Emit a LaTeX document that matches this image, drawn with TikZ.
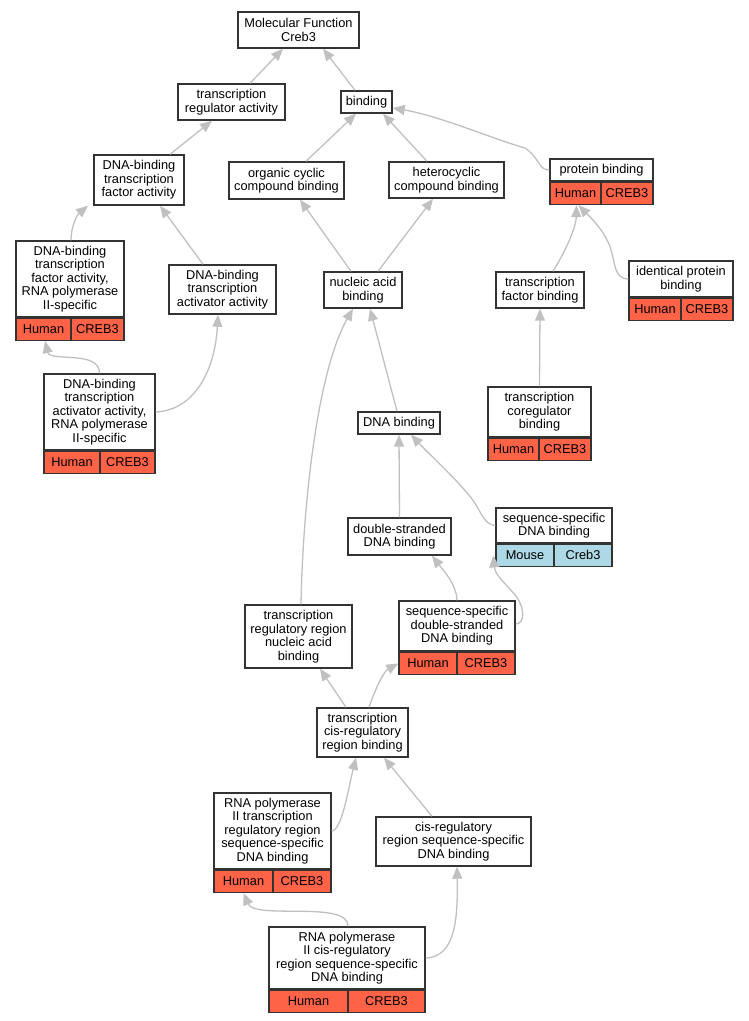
\documentclass[tikz,border=0pt]{standalone}
\usepackage{fontspec}
\setmainfont{Liberation Sans}
\usetikzlibrary{arrows.meta}

\definecolor{human}{HTML}{FF6347}
\definecolor{mouse}{HTML}{ADD8E6}
\definecolor{edgegray}{HTML}{C0C0C0}

\tikzset{
  term/.style={draw=black!80, line width=1.4pt, fill=white, inner sep=0pt,
               align=center, font=\fontsize{12.8}{13.5}\selectfont},
  humancell/.style={term, fill=human, minimum height=22},
  mousecell/.style={term, fill=mouse, minimum height=22},
  isa/.style={draw=edgegray, line width=1.3pt,
              -{Triangle[length=12pt,width=10pt]}}
}

\begin{document}
\begin{tikzpicture}[x=1pt, y=-1pt]
      \useasboundingbox (0,0) rectangle (749,1021);

      % top of the ontology
      \node (MF)   [term, minimum width=121, minimum height=36] at (298.5,30)  {Molecular Function\\Creb3};
      \node (TRA)  [term, minimum width=107, minimum height=36] at (231.5,102) {transcription\\regulator activity};
      \node (BIND) [term, minimum width=51,  minimum height=22] at (366.5,102) {binding};

      \node (DBTFA) [term, minimum width=90,  minimum height=50] at (139,180)   {DNA-binding\\transcription\\factor activity};
      \node (OCCB)  [term, minimum width=115, minimum height=37] at (286.5,180.5) {organic cyclic\\compound binding};
      \node (HCB)   [term, minimum width=115, minimum height=36] at (446.5,180) {heterocyclic\\compound binding};

      \node (PB)  [term, minimum width=103, minimum height=22] at (601.5,170) {protein binding};
      \node (PBh) [humancell, minimum width=51, anchor=north west] at (PB.south west) {Human};
      \node (PBc) [humancell, minimum width=52, anchor=north east] at (PB.south east) {CREB3};

      % second level
      \node (DBTFA2)  [term, minimum width=108, minimum height=76] at (70,279) {DNA-binding\\transcription\\factor activity,\\RNA polymerase\\II-specific};
      \node (DBTFA2h) [humancell, minimum width=55, anchor=north west] at (DBTFA2.south west) {Human};
      \node (DBTFA2c) [humancell, minimum width=53, anchor=north east] at (DBTFA2.south east) {CREB3};

      \node (DBTAA) [term, minimum width=107, minimum height=49] at (222.5,289.5) {DNA-binding\\transcription\\activator activity};
      \node (NAB)   [term, minimum width=78,  minimum height=36] at (363,290)     {nucleic acid\\binding};
      \node (TFB)   [term, minimum width=88,  minimum height=36] at (540,290)     {transcription\\factor binding};

      \node (IPB)  [term, minimum width=104, minimum height=36] at (681,279) {identical protein\\binding};
      \node (IPBh) [humancell, minimum width=52, anchor=north west] at (IPB.south west) {Human};
      \node (IPBc) [humancell, minimum width=52, anchor=north east] at (IPB.south east) {CREB3};

      \node (DBTAA2)  [term, minimum width=111, minimum height=76] at (99.5,412) {DNA-binding\\transcription\\activator activity,\\RNA polymerase\\II-specific};
      \node (DBTAA2h) [humancell, minimum width=56, anchor=north west] at (DBTAA2.south west) {Human};
      \node (DBTAA2c) [humancell, minimum width=55, anchor=north east] at (DBTAA2.south east) {CREB3};

      \node (DNAB) [term, minimum width=82, minimum height=22] at (399,423) {DNA binding};

      \node (TCB)  [term, minimum width=103, minimum height=50] at (539.5,412) {transcription\\coregulator\\binding};
      \node (TCBh) [humancell, minimum width=51, anchor=north west] at (TCB.south west) {Human};
      \node (TCBc) [humancell, minimum width=52, anchor=north east] at (TCB.south east) {CREB3};

      % DNA binding branch
      \node (SSDB)  [term, minimum width=116, minimum height=35] at (554,525.5) {sequence-specific\\DNA binding};
      \node (SSDBm) [mousecell, minimum width=58, anchor=north west] at (SSDB.south west) {Mouse};
      \node (SSDBc) [mousecell, minimum width=58, anchor=north east] at (SSDB.south east) {Creb3};

      \node (DSDB) [term, minimum width=103, minimum height=37] at (399.5,536.5) {double-stranded\\DNA binding};

      \node (SSDSDB)  [term, minimum width=116, minimum height=50] at (457,626) {sequence-specific\\double-stranded\\DNA binding};
      \node (SSDSDBh) [humancell, minimum width=58, anchor=north west] at (SSDSDB.south west) {Human};
      \node (SSDSDBc) [humancell, minimum width=58, anchor=north east] at (SSDSDB.south east) {CREB3};

      \node (TRRNAB) [term, minimum width=107, minimum height=63] at (298.5,636.5) {transcription\\regulatory region\\nucleic acid\\binding};
      \node (TCRB)   [term, minimum width=91,  minimum height=49] at (362.5,732.5) {transcription\\cis-regulatory\\region binding};

      % bottom terms
      \node (RTRR)  [term, minimum width=117, minimum height=76] at (272.5,831) {RNA polymerase\\II transcription\\regulatory region\\sequence-specific\\DNA binding};
      \node (RTRRh) [humancell, minimum width=59, anchor=north west] at (RTRR.south west) {Human};
      \node (RTRRc) [humancell, minimum width=58, anchor=north east] at (RTRR.south east) {CREB3};

      \node (CRSSDB) [term, minimum width=155, minimum height=49] at (453.5,841.5) {cis-regulatory\\region sequence-specific\\DNA binding};

      \node (RCR)  [term, minimum width=156, minimum height=62] at (347,958) {RNA polymerase\\II cis-regulatory\\region sequence-specific\\DNA binding};
      \node (RCRh) [humancell, minimum width=79, anchor=north west] at (RCR.south west) {Human};
      \node (RCRc) [humancell, minimum width=77, anchor=north east] at (RCR.south east) {CREB3};

      % is_a edges, child to parent
      \draw [isa] ([xshift=18.5]TRA.north)  -- ([xshift=-15.5]MF.south);
      \draw [isa] ([xshift=-11.5]BIND.north) -- ([xshift=24.5]MF.south);
      \draw [isa] ([xshift=31]DBTFA.north)  -- ([xshift=-19.5]TRA.south);
      \draw [isa] ([xshift=19.5]OCCB.north) -- ([xshift=-10.5]BIND.south);
      \draw [isa] ([xshift=-19.5]HCB.north) -- ([xshift=16.5]BIND.south);
      \draw [isa] (PB.west) .. controls (538,170) and (540,158) .. (525,148)
                  .. controls (490,138) and (440,116) .. ([yshift=-6]BIND.east);

      \draw [isa] ([xshift=1]DBTFA2.north) .. controls (71,225) and (78,214) .. ([xshift=-51]DBTFA.south);
      \draw [isa] ([xshift=-19.5]DBTAA.north) -- ([xshift=21]DBTFA.south);
      \draw [isa] ([xshift=-12]NAB.north) -- ([xshift=13.5]OCCB.south);
      \draw [isa] ([xshift=15]NAB.north)  -- ([xshift=-13.5]HCB.south);
      \draw [isa] ([xshift=13]TFB.north) .. controls (565,252) and (576,228) .. ([xshift=1]PBh.south);
      \draw [isa] (IPB.west) .. controls (612,279) and (616,258) .. (608,242)
                  .. controls (600,225) and (586,213) .. ([xshift=3]PBh.south);

      \draw [isa] (DBTAA2.north) .. controls (100,350) and (50,362) .. ([xshift=1.5]DBTFA2h.south);
      \draw [isa] (DBTAA2.east) .. controls (195,410) and (215,370) .. ([xshift=-4.5]DBTAA.south);
      \draw [isa] ([xshift=-2]DNAB.north) -- ([xshift=7]NAB.south);
      \draw [isa] ([xshift=2.5]TRRNAB.north) .. controls (303,500) and (318,370) .. ([xshift=-10]NAB.south);
      \draw [isa] (TCB.north) -- (TFB.south);

      \draw [isa] (DSDB.north) -- (DNAB.south);
      \draw [isa] (SSDB.west) .. controls (486,525) and (482,515) .. (476,505)
                  .. controls (466,488) and (430,455) .. ([xshift=12]DNAB.south);
      \draw [isa] (SSDSDB.north) .. controls (457,585) and (443,570) .. ([xshift=32.5]DSDB.south);
      \draw [isa] ([yshift=2]SSDSDB.east) .. controls (525,624) and (525,608) .. (516,596)
                  .. controls (506,584) and (495,575) .. ([xshift=-2]SSDBm.west);

      \draw [isa] ([xshift=-16.5]TCRB.north) -- ([xshift=21.5]TRRNAB.south);
      \draw [isa] ([xshift=6.5]TCRB.north) .. controls (375,690) and (383,672) .. (SSDSDBh.west);
      \draw [isa] (RTRR.east) .. controls (342,830) and (348,790) .. ([xshift=-6.5]TCRB.south);
      \draw [isa] ([xshift=-21.5]CRSSDB.north) -- ([xshift=21.5]TCRB.south);
      \draw [isa] ([xshift=1]RCR.north) .. controls (349,900) and (255,920) .. (RTRRh.south);
      \draw [isa] (RCR.east) .. controls (455,957) and (458,920) .. ([xshift=3.5]CRSSDB.south);
    \end{tikzpicture}
\end{document}
